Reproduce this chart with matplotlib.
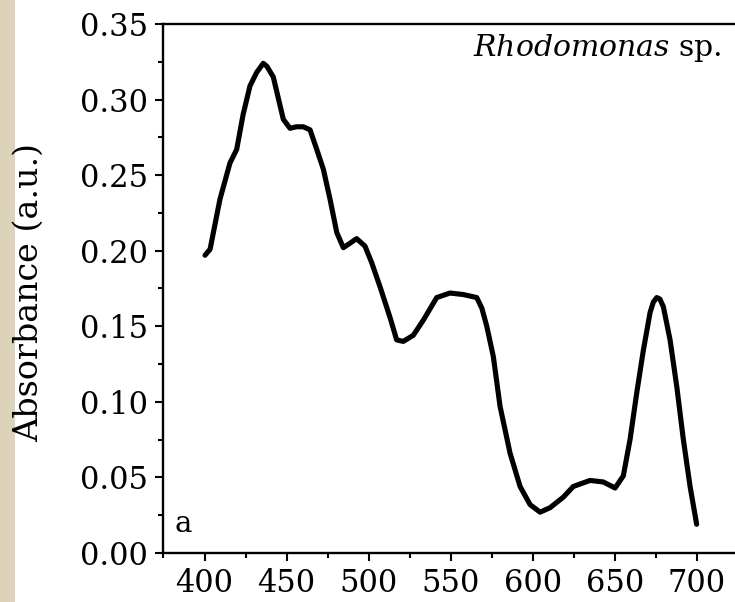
import numpy as np
import matplotlib
matplotlib.use("Agg")
import matplotlib.pyplot as plt
from matplotlib.ticker import MultipleLocator
from matplotlib.patches import Rectangle

# Data
wavelength = [400.3, 403.4, 409.4, 415.5, 419.6, 423.5, 427.7, 431.8, 433.8, 435.8,
              438.0, 441.9, 448.0, 452.1, 456.0, 460.2, 464.3, 468.4, 472.4, 476.5,
              480.6, 484.6, 488.7, 492.7, 497.8, 501.9, 507.0, 513.0, 517.1, 521.1,
              527.2, 533.3, 541.5, 549.6, 557.7, 565.9, 569.0, 572.0, 576.0, 580.1,
              586.2, 592.3, 598.4, 604.5, 610.6, 618.7, 624.7, 634.9, 643.0, 650.2,
              655.2, 659.3, 663.4, 667.4, 671.5, 673.5, 675.6, 677.5, 679.6, 683.7,
              687.8, 691.8, 695.9, 699.9]
absorbance = [0.197, 0.201, 0.234, 0.258, 0.267, 0.290, 0.309, 0.318, 0.321, 0.324,
              0.322, 0.315, 0.287, 0.281, 0.282, 0.282, 0.280, 0.267, 0.254, 0.234,
              0.212, 0.202, 0.205, 0.208, 0.203, 0.192, 0.176, 0.156, 0.141, 0.140,
              0.144, 0.154, 0.169, 0.172, 0.171, 0.169, 0.162, 0.150, 0.130, 0.097,
              0.066, 0.044, 0.032, 0.027, 0.030, 0.037, 0.044, 0.048, 0.047, 0.043,
              0.051, 0.075, 0.106, 0.134, 0.159, 0.166, 0.169, 0.168, 0.163, 0.141,
              0.110, 0.075, 0.044, 0.019]
x_ticks = [400, 450, 500, 550, 600, 650, 700]
y_ticks = [0.00, 0.05, 0.10, 0.15, 0.20, 0.25, 0.30, 0.35]
species = "Rhodomonas"
panel = "a"
ylabel = "Absorbance (a.u.)"

plt.rcParams['font.family'] = ['DejaVu Serif']
plt.rcParams['mathtext.fontset'] = 'dejavuserif'

W, H = 735, 602
fig = plt.figure(figsize=(W / 100, H / 100), dpi=100)

# beige strip on the left edge
fig.patches.append(Rectangle((0, 0), 15 / W, 1, transform=fig.transFigure,
                             facecolor='#ddd3bb', edgecolor='none', zorder=-5))

xmin, xmax = 374.7, 780
pxnm = 1.641
left_px, top_px, bottom_px = 163, 24, 553
ax = fig.add_axes([left_px / W, (H - bottom_px) / H,
                   (xmax - xmin) * pxnm / W, (bottom_px - top_px) / H])

ax.plot(wavelength, absorbance, color='black', lw=3.7, solid_capstyle='round',
        solid_joinstyle='round')

ax.set_xlim(xmin, xmax)
ax.set_ylim(0, 0.35)
ax.set_xticks(x_ticks)
ax.set_yticks(y_ticks)
ax.set_yticklabels([f"{v:.2f}" for v in y_ticks])
ax.xaxis.set_minor_locator(MultipleLocator(25))
ax.yaxis.set_minor_locator(MultipleLocator(0.025))
ax.tick_params(which='major', direction='out', length=6, width=1.5,
               labelsize=22, pad=5)
ax.tick_params(which='minor', direction='out', length=3.5, width=1.5)
ax.tick_params(top=False, right=False)
ax.spines['right'].set_visible(False)
for s in ['left', 'bottom', 'top']:
    ax.spines[s].set_linewidth(1.7)

fig.text(29 / W, 1 - 293 / H, ylabel, rotation=90, ha='center', va='center',
         fontsize=24, zorder=10)

fig.text(722 / W, 1 - 48 / H, r"$\mathit{" + species + r"}$ sp.", ha='right',
         va='center', fontsize=21.5)
fig.text(175 / W, 1 - 524 / H, panel, ha='left', va='center', fontsize=21)

fig.savefig("out.png", dpi=100)
